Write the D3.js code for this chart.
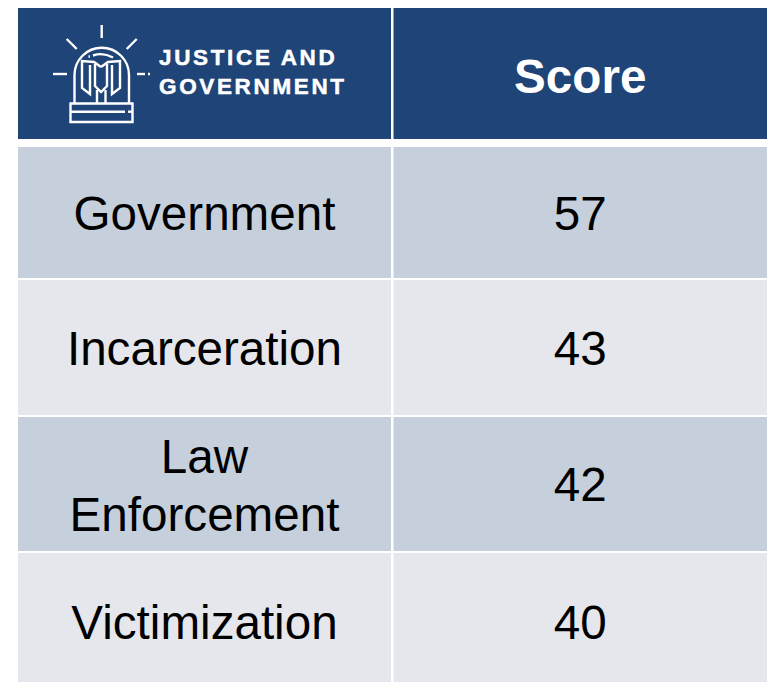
<!DOCTYPE html>
<html>
<head>
<meta charset="utf-8">
<script src="https://cdn.jsdelivr.net/npm/d3@7"></script>
<style>
  html, body { margin: 0; padding: 0; background: #fff; }
  svg { display: block; font-family: "Liberation Sans", Arial, sans-serif; }
</style>
</head>
<body>
<div id="vis"></div>
<script>
// table contents
const categories = ["Government", "Incarceration", "Law Enforcement", "Victimization"];
const scores = [57, 43, 42, 40];
const headerLogoLines = ["JUSTICE AND", "GOVERNMENT"];
const scoreHeader = "Score";

////////////////////////////////////////
/////////////// Setup //////////////////
////////////////////////////////////////

const width = 767;
const height = 682;
const left = 18;
const divider = 392;
const headerTop = 8;
const headerBottom = 139;

// the grid is not quite even, and the last row runs off the page
const rowTops = [147, 280, 417, 553];
const rowBottoms = [278, 415, 551, 690];

const navy = "#1f4477";
const rowFills = ["#c6d0dd", "#e5e7ed"];
const fontSize = 47.6;

const svg = d3
  .select("#vis")
  .append("svg")
  .attr("width", width)
  .attr("height", height)
  .attr("viewBox", `0 0 ${width} ${height}`);

////////////////////////////////////////
/////////////// Scales /////////////////
////////////////////////////////////////

const yTop = d3.scaleOrdinal().domain(categories).range(rowTops);
const yBottom = d3.scaleOrdinal().domain(categories).range(rowBottoms);

// two columns, split by a thin white rule
const xScale = d3
  .scaleOrdinal()
  .domain(["name", "score"])
  .range([left, divider + 1.5]);

const colWidth = { name: divider - 1 - left, score: width - divider - 1.5 };

////////////////////////////////////////
/////////////// Header /////////////////
////////////////////////////////////////

const header = svg.append("g");

Object.keys(colWidth).forEach((col) => {
  header
    .append("rect")
    .attr("x", xScale(col))
    .attr("y", headerTop)
    .attr("width", colWidth[col])
    .attr("height", headerBottom - headerTop)
    .attr("fill", navy);
});

header
  .append("text")
  .attr("x", xScale("score") + colWidth.score / 2)
  .attr("y", 93)
  .attr("text-anchor", "middle")
  .attr("fill", "#fff")
  .attr("font-size", fontSize)
  .attr("font-weight", 700)
  .text(scoreHeader);

header
  .selectAll("text.logo")
  .data(headerLogoLines)
  .join("text")
  .attr("class", "logo")
  .attr("x", 159)
  .attr("y", (d, i) => 65 + i * 28.5)
  .attr("fill", "#fff")
  .attr("stroke", "#fff")
  .attr("stroke-width", 0.5)
  .attr("font-size", 22.5)
  .attr("font-weight", 700)
  .attr("letter-spacing", 2.65)
  .text((d) => d);

// beacon icon
const icon = header
  .append("g")
  .attr("fill", "none")
  .attr("stroke", "#fff")
  .attr("stroke-width", 2.4);

const iconPaths = [
  "M101.7 25V38",
  "M66.7 39L76.7 49",
  "M136.7 39L126.7 49",
  "M53 74H67",
  "M137 74H145",
  "M148 74H150",
  "M74.5 103V75A27.2 27.2 0 0 1 129 75V103",
  "M70.5 103.5H132.5V122H70.5Z",
  "M70.5 111.7H125",
  "M128 111.7H132",
  "M93 55.5Q103 52 113 57.5",
  "M88.5 56.5H90",
  "M97 103V90M105.5 103V90",
  "M101 67L94 62L82 61V88L90 94V65",
  "M101 67L108 62L120 61V88L112 94V65",
  "M95 64V86L101 92L107 86V64",
];

icon
  .selectAll("path")
  .data(iconPaths)
  .join("path")
  .attr("d", (d) => d);

////////////////////////////////////////
//////////////// Rows //////////////////
////////////////////////////////////////

const rows = svg
  .selectAll("g.row")
  .data(categories)
  .join("g")
  .attr("class", "row");

Object.keys(colWidth).forEach((col) => {
  rows
    .append("rect")
    .attr("x", xScale(col))
    .attr("y", (d) => yTop(d))
    .attr("width", colWidth[col])
    .attr("height", (d) => yBottom(d) - yTop(d))
    .attr("fill", (d, i) => rowFills[i % 2]);
});

// last row is centred on the part left on the page
const mid = (d) => (yTop(d) + Math.min(yBottom(d), height)) / 2 + (d === "Victimization" ? 4 : 0);

rows
  .append("text")
  .attr("x", xScale("name") + colWidth.name / 2)
  .attr("y", (d) => mid(d) + 17)
  .attr("text-anchor", "middle")
  .attr("font-size", fontSize)
  .attr("fill", "#000")
  .each(function (d) {
    // long names break onto two lines
    const words = d.split(" ");
    if (words.length === 1) {
      d3.select(this).text(d);
      return;
    }
    const cy = mid(d);
    d3.select(this)
      .selectAll("tspan")
      .data(words)
      .join("tspan")
      .attr("x", xScale("name") + colWidth.name / 2)
      .attr("y", (w, i) => cy - 11 + i * 58)
      .text((w) => w);
  });

rows
  .append("text")
  .attr("x", xScale("score") + colWidth.score / 2)
  .attr("y", (d) => mid(d) + 17)
  .attr("text-anchor", "middle")
  .attr("font-size", fontSize)
  .attr("fill", "#000")
  .text((d, i) => scores[i]);
</script>
</body>
</html>
